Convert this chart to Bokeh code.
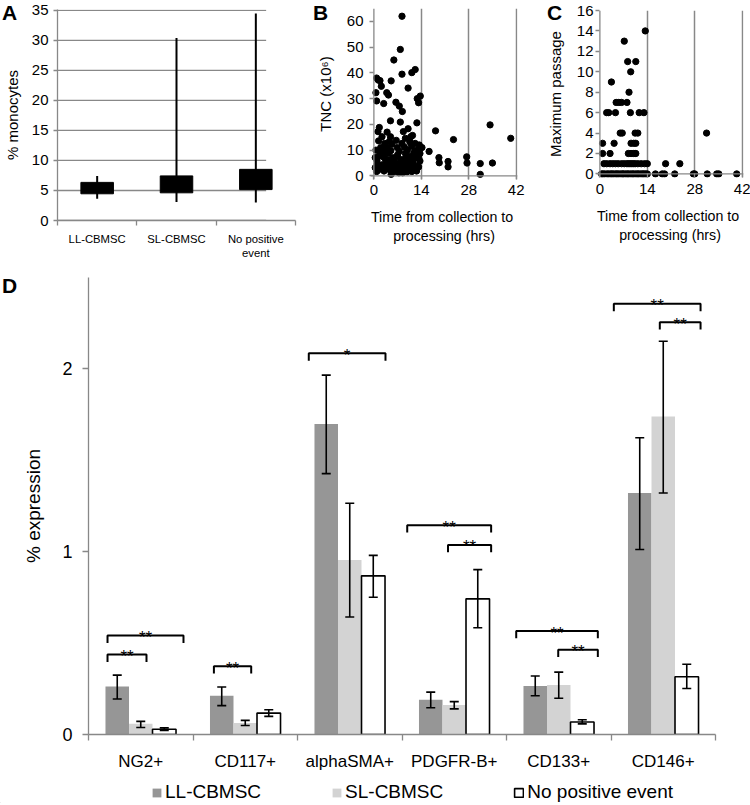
from bokeh.plotting import figure
from bokeh.models import (Range1d, FixedTicker, Legend, LegendItem, Whisker,
                          ColumnDataSource, TeeHead, Span, Div)
from bokeh.layouts import row, column
from bokeh.embed import file_html
from bokeh.resources import INLINE
from bokeh.core.properties import value

# ---------------- data ----------------
# Panel A: % monocytes (low / high whiskers, box)
a_groups = ["LL-CBMSC", "SL-CBMSC", "No positive\nevent"]
a_low = [3.64, 3.09, 3.0]
a_high = [7.43, 30.4, 34.5]
a_box_low = [4.45, 4.61, 5.15]
a_box_high = [6.35, 7.43, 8.52]
a_yticks = [0, 5, 10, 15, 20, 25, 30, 35]

# Panel B: TNC (x10^6) vs time from collection to processing (hrs)
b_time = [8.3, 7.8, 5.9, 8.3, 11.2, 12.2, 0.8, 1.3, 1.8, 5.1, 2.2, 10.1, 0.6, 3.8, 4.3, 13.7,
          12.8, 0.8, 2.9, 6.5, 7.5, 13.2, 8.4, 4.9, 7.8, 12.7,
          1.6, 1.2, 3.9, 8.7, 10.1, 11.4, 10.9, 2.4, 4.9, 9.3, 1.4, 3.2, 0.6, 3.9, 6.9, 8.3,
          9.9, 12.2, 13.0, 14.2, 2.0, 5.3, 11.1, 2.6, 4.3, 7.5, 9.3, 11.8, 13.6, 0.4, 1.4, 2.8,
          4.1, 5.5, 6.9, 8.3, 9.5, 10.7, 12.0, 13.2, 1.0, 2.4, 3.6, 4.9, 6.3, 7.7, 8.9, 10.3,
          11.6, 12.8, 0.4, 1.8, 1.2, 3.0, 4.5, 5.1, 6.1, 7.5, 8.5, 10.1, 11.2, 12.4, 13.2, 0.8, 6.9,
          1.8, 3.4, 5.0, 6.2, 7.0, 8.0, 9.0, 10.4, 11.4, 12.2, 13.6, 0.9, 2.2, 3.8, 5.8, 7.4,
          8.8, 9.8, 11.0, 12.6, 13.4, 4.6, 6.6, 10.6, 3.0,
          16.3, 18.2, 19.2, 19.3, 21.9, 21.9, 23.5, 27.4, 27.5, 31.4, 31.4, 34.3, 35.0, 40.4]
b_tnc = [62.0, 49.1, 45.0, 39.5, 40.1, 41.3, 38.0, 37.2, 37.0, 36.9, 34.8, 34.1, 32.3, 32.3, 31.4, 31.0,
         30.0, 29.1, 28.1, 28.6, 27.1, 28.4, 25.0, 21.4, 20.9, 20.6,
         18.8, 17.2, 17.0, 17.2, 18.3, 15.7, 15.2, 15.2, 15.2, 14.6, 13.6, 12.6, 10.0, 11.0, 11.0, 12.6,
         10.0, 12.6, 10.0, 11.0, 11.0, 12.3, 11.5, 8.9, 8.9, 9.5, 8.7, 8.9, 8.7, 7.1, 7.6, 7.4,
         6.3, 7.1, 7.4, 6.3, 7.1, 7.6, 6.9, 7.1, 4.8, 4.3, 5.3, 4.5, 5.1, 4.3, 4.8, 4.0,
         5.1, 3.8, 3.2, 3.5, 2.2, 1.9, 2.5, 0.6, 1.7, 2.2, 1.2, 2.2, 1.7, 2.7, 3.5, 1.7, 3.2,
         9.2, 6.5, 9.8, 3.0, 8.2, 5.6, 11.2, 5.9, 3.1, 9.8, 5.8, 5.9, 2.8, 3.7, 5.9, 1.2,
         3.4, 1.6, 6.4, 1.9, 12.0, 13.4, 13.8, 13.2, 10.3,
         9.5, 17.5, 7.1, 5.1, 5.6, 3.5, 14.1, 7.4, 5.0, 4.8, 0.6, 19.8, 5.0, 14.6]

# Panel C: maximum passage vs time from collection to processing (hrs)
c_time = [13.4, 7.2, 8.2, 10.6, 9.1, 3.4, 8.6,
          4.8, 5.6, 6.4, 8.0,
          2.0, 2.6, 4.6, 9.0, 11.6, 13.0,
          6.0, 6.6, 10.4, 11.2, 31.5,
          0.8, 4.2, 9.2, 10.0, 10.6,
          0.8, 3.0, 8.4, 9.2, 10.0, 10.6,
          1.2, 2.0, 3.0, 3.8, 4.6, 5.4, 6.4, 7.2, 8.0, 8.6, 9.2, 9.8, 10.4, 11.2, 12.2, 13.2,
          14.0, 19.4, 23.6,
          0.5, 0.9, 1.4, 2.1, 2.6, 3.2, 3.6, 4.1, 4.7, 5.1, 5.6, 6.2, 6.7, 7.0, 7.6, 8.1,
          8.5, 9.1, 9.6, 10.0, 10.6, 11.1, 11.5, 12.1, 12.6, 13.0, 13.5, 14.0, 16.4, 18.4,
          19.1, 22.1, 27.6, 28.0, 31.7, 34.5, 35.1, 40.4]
c_passage = [14, 13, 11, 11, 10, 9, 8,
             7, 7, 7, 7,
             6, 6, 6, 6, 6, 6,
             4, 4, 4, 4, 4,
             3, 3, 3, 3, 3,
             2, 2, 2, 2, 2, 2,
             1, 1, 1, 1, 1, 1, 1, 1, 1, 1, 1, 1, 1, 1, 1, 1,
             1, 1, 1,
             0, 0, 0, 0, 0, 0, 0, 0, 0, 0, 0, 0, 0, 0, 0, 0,
             0, 0, 0, 0, 0, 0, 0, 0, 0, 0, 0, 0, 0, 0,
             0, 0, 0, 0, 0, 0, 0, 0]
bc_xticks = [0, 14, 28, 42]
b_yticks = [0, 10, 20, 30, 40, 50, 60]
c_yticks = [0, 2, 4, 6, 8, 10, 12, 14, 16]

# Panel D: % expression
d_markers = ["NG2+", "CD117+", "alphaSMA+", "PDGFR-B+", "CD133+", "CD146+"]
d_ll = [0.262, 0.212, 1.699, 0.190, 0.266, 1.321]
d_ll_lo = [0.194, 0.158, 1.427, 0.146, 0.212, 1.012]
d_ll_hi = [0.325, 0.260, 1.966, 0.232, 0.320, 1.623]
d_sl = [0.059, 0.063, 0.955, 0.162, 0.271, 1.740]
d_sl_lo = [0.038, 0.049, 0.643, 0.140, 0.198, 1.321]
d_sl_hi = [0.072, 0.077, 1.265, 0.180, 0.341, 2.151]
d_no = [0.029, 0.117, 0.868, 0.742, 0.068, 0.316]
d_no_lo = [0.022, 0.099, 0.751, 0.584, 0.058, 0.252]
d_no_hi = [0.036, 0.135, 0.980, 0.902, 0.081, 0.384]
d_series = ["LL-CBMSC", "SL-CBMSC", "No positive event"]
d_yticks = [0, 1, 2]
# significance brackets (x in category units, y in % expression)
br_x0 = [0.182, 0.182, 1.200, 2.108, 3.050, 3.440, 4.093, 4.495, 5.027, 5.467]
br_x1 = [0.555, 0.909, 1.557, 2.842, 3.853, 3.853, 4.874, 4.874, 5.857, 5.857]
br_y = [0.437, 0.541, 0.374, 2.085, 1.145, 1.037, 0.566, 0.464, 2.356, 2.255]
br_text = ["**", "**", "**", "*", "**", "**", "**", "**", "**", "**"]

# panel letters
letters = ["A", "B", "C", "D"]

# ---------------- styling helpers ----------------
FONT = "Liberation Sans"
GREY = "#888888"


def fs(v):
    return f"{v}px"


def make_fig(w, h, left, right, top, bottom, xr, yr):
    p = figure(width=w, height=h, x_range=xr, y_range=yr,
               output_backend="svg", toolbar_location=None,
               min_border_left=left, min_border_right=right,
               min_border_top=top, min_border_bottom=bottom)
    try:
        p.frame_align = False
    except Exception:
        pass
    p.outline_line_color = None
    p.background_fill_color = "white"
    p.border_fill_color = "white"
    p.xgrid.visible = False
    p.ygrid.visible = False
    for ax in (p.xaxis[0], p.yaxis[0]):
        ax.axis_line_color = GREY
        ax.axis_line_width = 1.3
        ax.major_tick_line_color = GREY
        ax.major_tick_line_width = 1.3
        ax.minor_tick_line_color = GREY
        ax.minor_tick_line_width = 1.3
        ax.major_tick_in = 0
        ax.minor_tick_in = 0
        ax.minor_tick_out = 0
        ax.major_label_text_font = FONT
        ax.major_label_text_color = "black"
        ax.axis_label_text_font = FONT
        ax.axis_label_text_font_style = "normal"
        ax.axis_label_text_color = "black"
    return p


# ---------------- Panel A ----------------
a_x = [i + 0.5 for i in range(len(a_groups))]
pA = make_fig(300, 272, 53, 5, 9, 52, Range1d(0, 3), Range1d(0, 35.15))
ya = pA.yaxis[0]
ya.ticker = FixedTicker(ticks=a_yticks)
ya.major_tick_out = 4
ya.major_label_standoff = 5
ya.major_label_text_font_size = fs(15)
ya.axis_label = "% monocytes"
ya.axis_label_text_font_size = fs(15)
ya.axis_label_standoff = 8
xa = pA.xaxis[0]
xa.ticker = FixedTicker(ticks=a_x, minor_ticks=list(range(len(a_groups) + 1)))
xa.major_tick_out = 0
xa.minor_tick_out = 5
xa.major_label_standoff = 7
xa.major_label_text_font_size = fs(11.3)
xa.major_label_overrides = {x: g for x, g in zip(a_x, a_groups)}
# horizontal grid lines (they stop where panel B begins in the original)
pA.segment(x0=0, x1=2.63, y0=a_yticks, y1=a_yticks, line_color=GREY, line_width=1.3)
pA.segment(x0=a_x, y0=a_low, x1=a_x, y1=a_high, line_color="black", line_width=2)
pA.vbar(x=a_x, width=0.41, bottom=a_box_low, top=a_box_high,
        fill_color="black", line_color="black")


# ---------------- Panels B and C ----------------
def scatter_panel(w, left, right, top, bottom, xr, yr, yticks, ylabel, xs, ys, x_std, y_std):
    p = make_fig(w, 272, left, right, top, bottom, xr, yr)
    xb = p.xaxis[0]
    xb.axis_line_color = None
    xb.ticker = FixedTicker(ticks=bc_xticks)
    xb.major_tick_in = 4
    xb.major_tick_out = 0
    xb.major_label_standoff = x_std
    xb.major_label_text_font_size = fs(15)
    xb.axis_label = "Time from collection  to\nprocessing (hrs)"
    xb.axis_label_text_font_size = fs(14.2)
    xb.axis_label_standoff = 11
    yb = p.yaxis[0]
    yb.axis_line_color = None
    yb.ticker = FixedTicker(ticks=yticks)
    yb.major_tick_in = 3
    yb.major_tick_out = 1
    yb.major_label_standoff = y_std
    yb.major_label_text_font_size = fs(15)
    yb.axis_label = ylabel
    yb.axis_label_text_font_size = fs(15)
    yb.axis_label_standoff = 10
    p.xgrid.visible = True
    p.xgrid.ticker = FixedTicker(ticks=bc_xticks[1:])
    p.xgrid.grid_line_color = GREY
    p.xgrid.grid_line_width = 1.5
    p.add_layout(Span(location=0, dimension="width", line_color=GREY, line_width=1.3))
    p.add_layout(Span(location=0, dimension="height", line_color=GREY, line_width=1.3))
    p.scatter(x=xs, y=ys, size=6.3, fill_color="black", line_color="black")
    return p


pB = scatter_panel(240, 70, 23, 8, 93, Range1d(-1.0, 42.4), Range1d(-1.4, 65),
                   b_yticks, "TNC (x10\u2076)", b_time, b_tnc, 5, 6)
pC = scatter_panel(210, 56, 7, 10, 95, Range1d(-1.0, 42.4), Range1d(-0.35, 16),
                   c_yticks, "Maximum passage", c_time, c_passage, 6, 2)

# ---------------- Panel D ----------------
pD = make_fig(750, 501, 88, 35, 5, 32, Range1d(0, len(d_markers)), Range1d(0, 2.5))
d_x = [i + 0.5 for i in range(len(d_markers))]
BW = 0.225
colors = ["#969696", "#d3d3d3", "white"]
lines = [None, None, "black"]
for k, (vals, lo, hi) in enumerate([(d_ll, d_ll_lo, d_ll_hi), (d_sl, d_sl_lo, d_sl_hi),
                                     (d_no, d_no_lo, d_no_hi)]):
    xs = [x + (k - 1) * BW for x in d_x]
    src = ColumnDataSource(dict(x=xs, top=vals, lo=lo, hi=hi))
    pD.vbar(x="x", top="top", bottom=0, width=BW, source=src,
            fill_color=colors[k], line_color=lines[k], line_width=1.6)
    pD.add_layout(Whisker(source=src, base="x", upper="hi", lower="lo", dimension="height",
                          line_color="black", line_width=1.6, level="annotation",
                          upper_head=TeeHead(size=9, line_color="black", line_width=1.6),
                          lower_head=TeeHead(size=9, line_color="black", line_width=1.6)))

drop = 0.04
pD.multi_line(xs=[[a, a, b, b] for a, b in zip(br_x0, br_x1)],
              ys=[[y - drop, y, y, y - drop] for y in br_y],
              line_color="black", line_width=2)
pD.text(x=[(a + b) / 2 for a, b in zip(br_x0, br_x1)], y=br_y, text=br_text,
        text_font=value(FONT), text_font_size=fs(17), text_align="center",
        text_baseline="alphabetic", y_offset=2, text_color="black")

yd = pD.yaxis[0]
yd.ticker = FixedTicker(ticks=d_yticks)
yd.major_tick_out = 6
yd.major_label_standoff = 10
yd.major_label_text_font_size = fs(18)
yd.axis_label = "% expression"
yd.axis_label_text_font_size = fs(19)
yd.axis_label_standoff = 15
xd = pD.xaxis[0]
xd.ticker = FixedTicker(ticks=d_x, minor_ticks=list(range(len(d_markers) + 1)))
xd.major_tick_out = 0
xd.minor_tick_out = 6
xd.major_label_standoff = 11
xd.major_label_text_font_size = fs(17)
xd.major_label_overrides = {x: m for x, m in zip(d_x, d_markers)}
xd.axis_line_width = 1.6

# ---------------- legend strip ----------------
pL = figure(width=750, height=30, x_range=Range1d(0, 1), y_range=Range1d(0, 1),
            output_backend="svg", toolbar_location=None,
            x_axis_location=None, y_axis_location=None,
            min_border_left=0, min_border_right=0, min_border_top=0, min_border_bottom=0)
try:
    pL.frame_align = False
except Exception:
    pass
pL.outline_line_color = None
pL.grid.visible = False
leg_r = []
for k in range(3):
    # zero-height proxy bars: they only give the legend its swatches
    leg_r.append(pL.vbar(x=[-1], top=[0], bottom=0, width=0.5, fill_color=colors[k],
                         line_color=lines[k], line_width=1.6))
legend = Legend(items=[LegendItem(label=s, renderers=[r]) for s, r in zip(d_series, leg_r)],
                orientation="horizontal", location=(151, 0),
                glyph_width=11, glyph_height=11, label_standoff=3,
                spacing=70, label_text_font=FONT, label_text_font_size=fs(19),
                label_text_color="black",
                label_height=20, border_line_color=None, background_fill_alpha=0,
                padding=0, margin=0)
pL.add_layout(legend)

# ---------------- panel letters (absolutely placed over the figures) ----------------
letter_pos = [(2, 2), (313, 2), (547, 2), (2, 275)]
letter_divs = []
for t, (lx, ly) in zip(letters, letter_pos):
    letter_divs.append(Div(text=t, width=20, height=24, styles={
        "position": "absolute", "left": f"{lx}px", "top": f"{ly}px",
        "font-family": FONT, "font-weight": "bold", "font-size": "21px",
        "line-height": "1", "margin": "0", "padding": "0", "color": "black",
        "z-index": "10"}))

layout = column(row(pA, pB, pC), pD, pL, *letter_divs)
open("out.html", "w").write(file_html(layout, INLINE))
